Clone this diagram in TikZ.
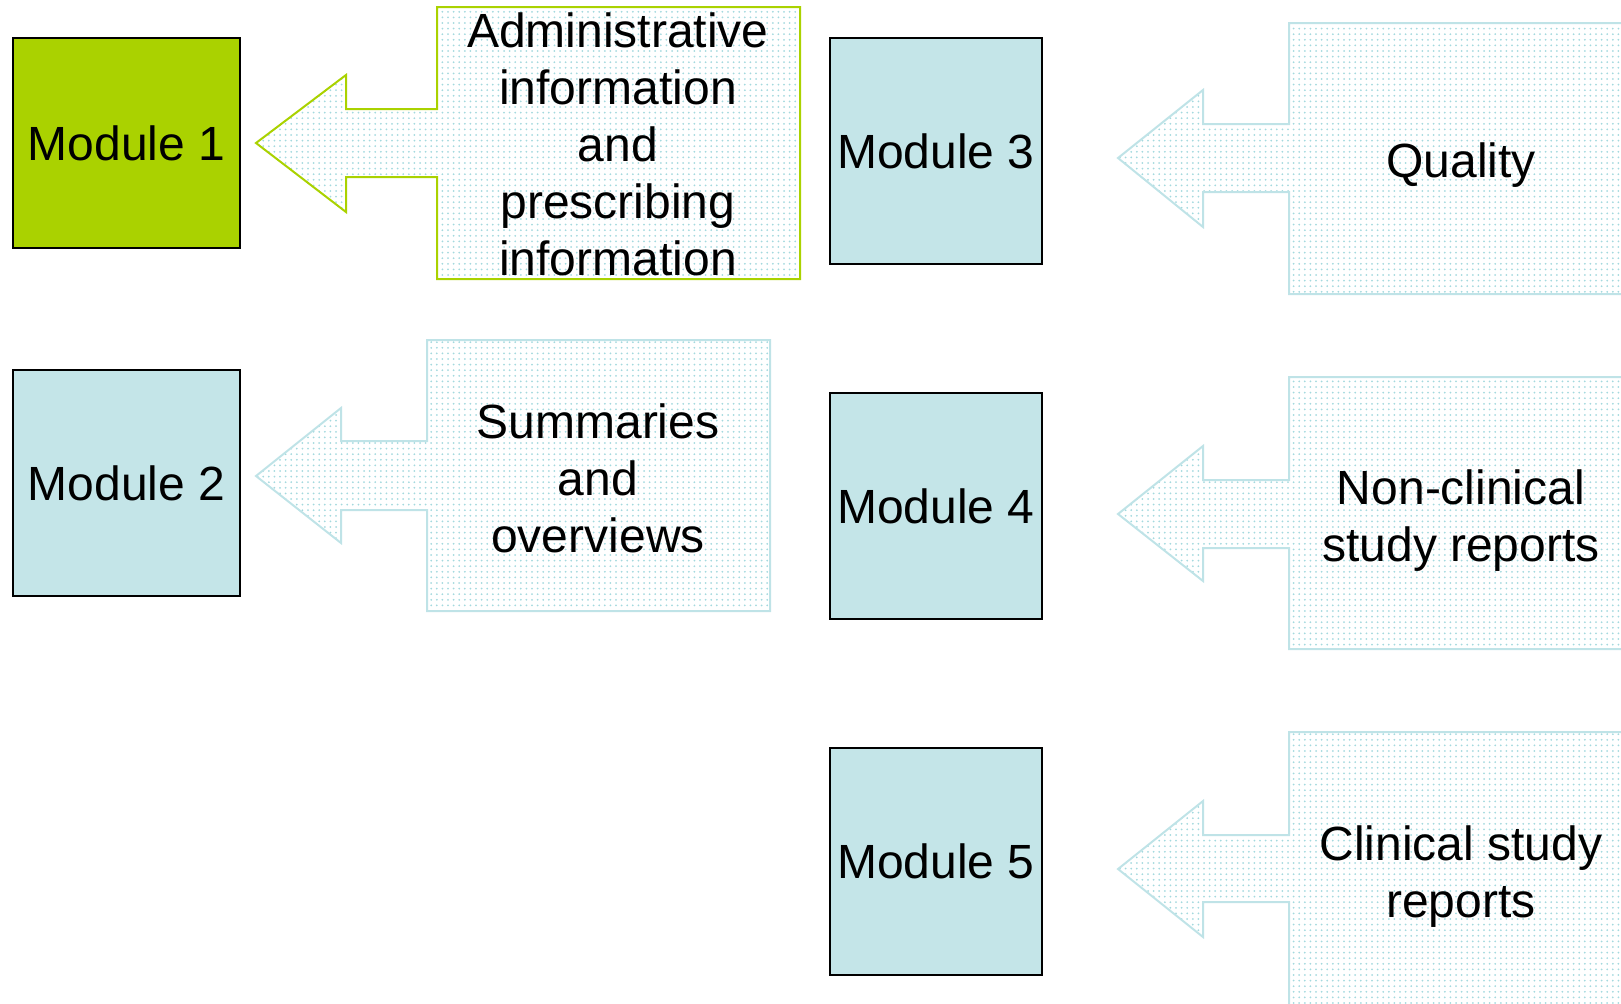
\documentclass[tikz,border=0pt]{standalone}
\usepackage{fontspec}
\setmainfont{Liberation Sans}
\usetikzlibrary{patterns.meta}
\definecolor{modgreen}{HTML}{AAD200}
\definecolor{modblue}{HTML}{C4E5E8}
\definecolor{callline}{HTML}{BFE3E7}
\definecolor{dotcol}{HTML}{A4D9DE}
\tikzdeclarepattern{
  name=cdots,
  type=uncolored,
  bottom left={(-1.4pt,-1.4pt)},
  top right={(1.4pt,1.4pt)},
  tile size={(2.8pt,2.8pt)},
  code={\fill (0,0) circle (0.5pt);}
}
\tikzset{
  modbox/.style={draw=black, line width=0.8pt, inner sep=0pt,
    font=\fontsize{24pt}{28.5pt}\selectfont},
  callout/.style={line width=1pt, draw=callline, pattern={cdots}, pattern color=dotcol},
  calltext/.style={align=center, inner sep=0pt,
    font=\fontsize{24pt}{28.5pt}\selectfont}
}
\begin{document}
\begin{tikzpicture}[x=0.5pt,y=-0.5pt]
\useasboundingbox (0,0) rectangle (1621,1003);
\clip (0,0) rectangle (1621,1003);
% callouts
\path[callout, draw=modgreen] (437,7) -- (800,7) -- (800,279) -- (437,279) -- (437,177) -- (346,177) -- (346,212) -- (256,143) -- (346,75) -- (346,109) -- (437,109) -- cycle;
\path[callout] (427,340) -- (770,340) -- (770,611) -- (427,611) -- (427,510) -- (341,510) -- (341,543) -- (256,476) -- (341,408) -- (341,441) -- (427,441) -- cycle;
\path[callout] (1289,23) -- (1633,23) -- (1633,294) -- (1289,294) -- (1289,192) -- (1203,192) -- (1203,227) -- (1118,158) -- (1203,90) -- (1203,124) -- (1289,124) -- cycle;
\path[callout] (1289,377) -- (1633,377) -- (1633,649) -- (1289,649) -- (1289,548) -- (1203,548) -- (1203,581) -- (1118,514) -- (1203,446) -- (1203,480) -- (1289,480) -- cycle;
\path[callout] (1289,732) -- (1633,732) -- (1633,1008) -- (1289,1008) -- (1289,902) -- (1203,902) -- (1203,937) -- (1118,869) -- (1203,801) -- (1203,835) -- (1289,835) -- cycle;
% callout texts
\node[calltext] (tadmin) at (618,144) {Administrative\\information\\and\\prescribing\\information};
\node[calltext] (tsum) at (598,478) {Summaries\\and\\overviews};
\node[calltext] (tqual) at (1461,165) {Quality};
\node[calltext] (tnon) at (1461,521) {Non-clinical\\study reports};
\node[calltext] (tclin) at (1461,877) {Clinical study\\reports};
% modules
\node[modbox, fill=modgreen, minimum width=113.5pt, minimum height=105pt] (m1) at (126.5,143) {Module 1};
\node[modbox, fill=modblue, minimum width=113.5pt, minimum height=113pt] (m2) at (126.5,483) {Module 2};
\node[modbox, fill=modblue, minimum width=106pt, minimum height=113pt] (m3) at (936,151) {Module 3};
\node[modbox, fill=modblue, minimum width=106pt, minimum height=113pt] (m4) at (936,506) {Module 4};
\node[modbox, fill=modblue, minimum width=106pt, minimum height=113.5pt] (m5) at (936,861.5) {Module 5};
\end{tikzpicture}
\end{document}
